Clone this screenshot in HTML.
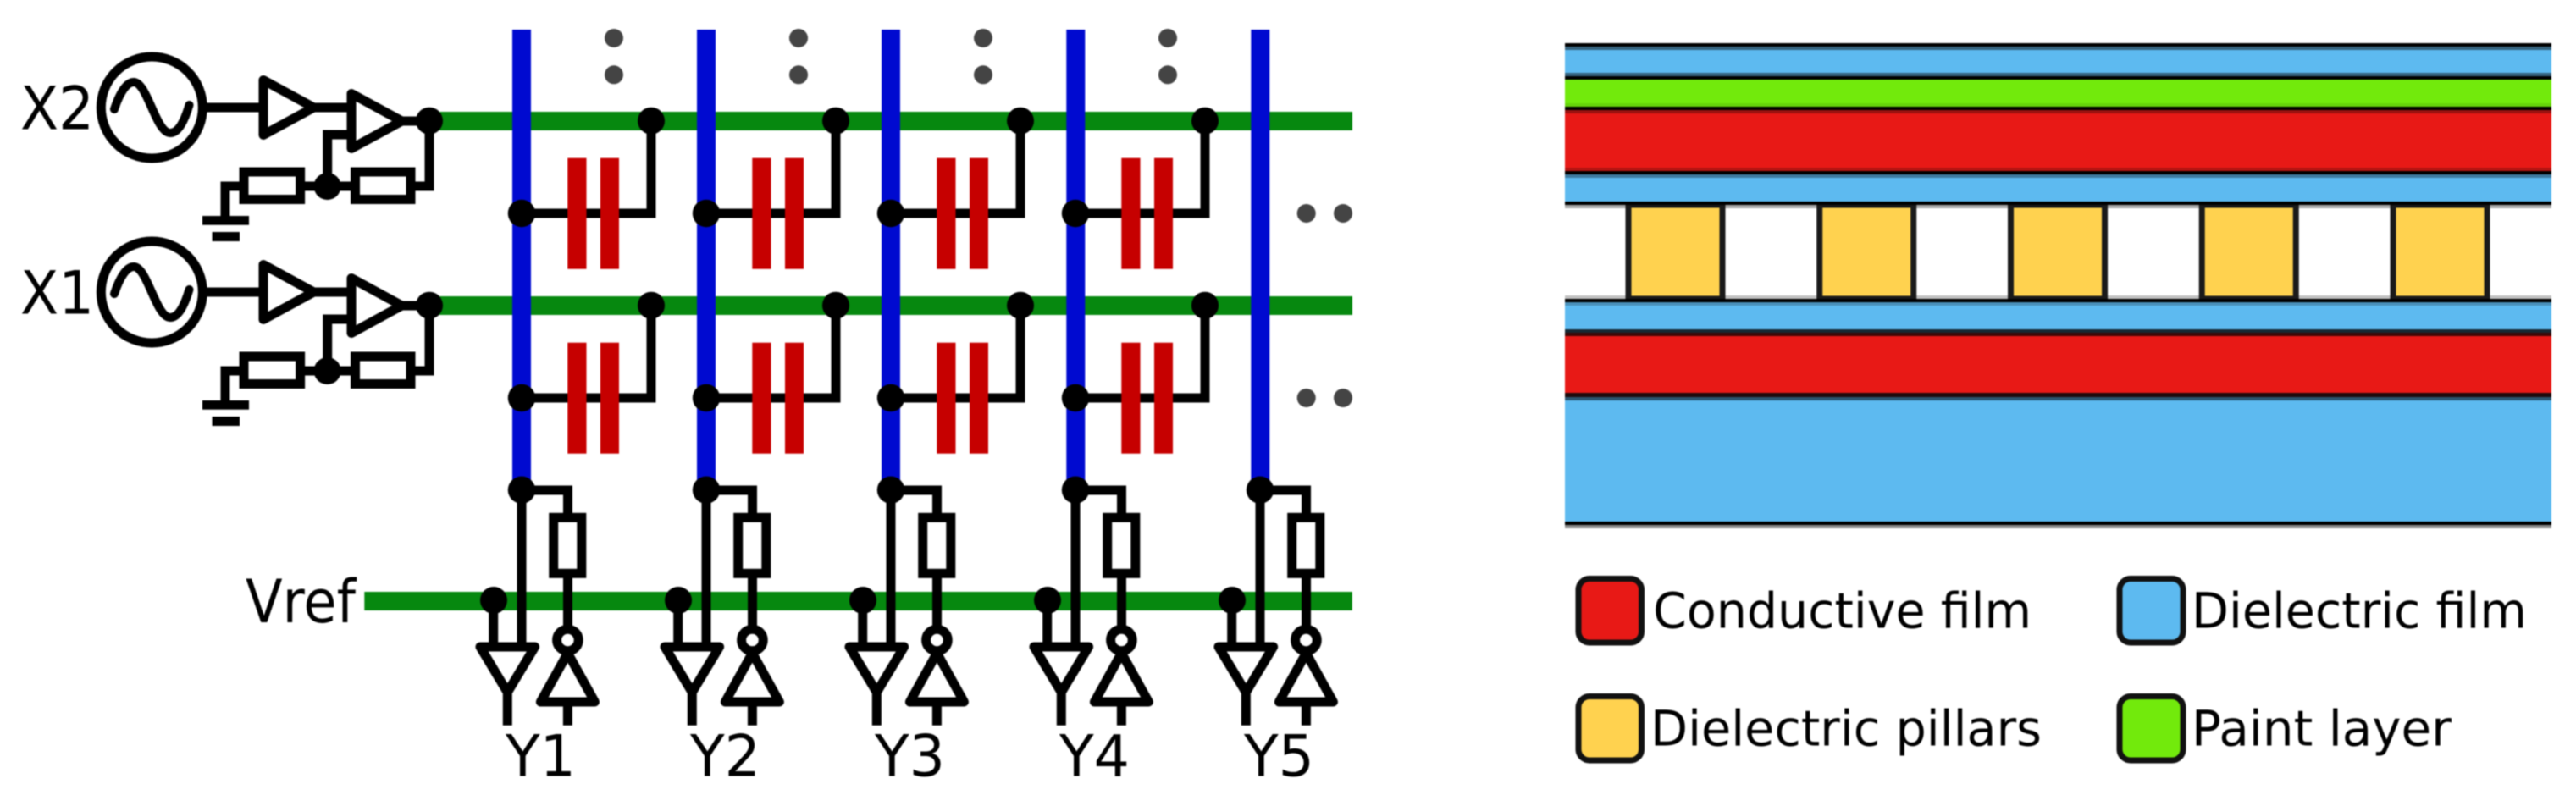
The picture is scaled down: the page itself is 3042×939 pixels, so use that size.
<!DOCTYPE html>
<html>
<head>
<meta charset="utf-8">
<style>
html,body{margin:0;padding:0;background:#fff;width:3042px;height:939px;overflow:hidden}
svg{display:block;filter:blur(0.8px)}
text{font-family:"DejaVu Sans","Liberation Sans",sans-serif;fill:#000}
</style>
</head>
<body>
<svg xmlns="http://www.w3.org/2000/svg" width="3042" height="939" viewBox="0 0 3042 939">
<defs>
  <g id="driver" fill="none" stroke="#000" stroke-width="11" stroke-linejoin="round">
    <circle cx="179.3" cy="127" r="60"/>
    <path d="M135,129 C142,108 150,97 158,97 C174,97 184,157 201,157 C211,157 218,142 223.5,124" stroke-width="10" stroke-linecap="round"/>
    <path d="M244,127 H311 M368,127 H415"/>
    <path d="M311,94.6 L370.5,127 L311,159.4 Z" fill="#fff"/>
    <path d="M415,110.6 L474.5,143 L415,175.4 Z" fill="#fff"/>
    <path d="M474,143 H507 V220 H485" stroke-linejoin="miter"/>
    <path d="M415,159 H386.7 V220" stroke-linejoin="miter"/>
    <rect x="419.5" y="203" width="65.5" height="32.5" stroke-linejoin="miter"/>
    <rect x="288" y="203" width="66.6" height="32.5" stroke-linejoin="miter"/>
    <path d="M354,220 H420"/>
    <path d="M288,220 H266 V256" stroke-linejoin="miter"/>
    <rect x="239" y="255" width="55" height="10.7" fill="#000" stroke="none"/>
    <rect x="250.5" y="274" width="32.5" height="11" fill="#000" stroke="none"/>
    <circle cx="507" cy="142.7" r="16" fill="#000" stroke="none"/>
    <circle cx="386.6" cy="220" r="16" fill="#000" stroke="none"/>
  </g>
  <g id="cap">
    <path d="M0,252 H153 V143" fill="none" stroke="#000" stroke-width="11" stroke-linejoin="miter"/>
    <rect x="54.3" y="186.7" width="22.2" height="131" fill="#c60000"/>
    <rect x="93" y="186.7" width="22" height="131" fill="#c60000"/>
    <circle cx="0" cy="252" r="16.2" fill="#000"/>
    <circle cx="153" cy="142.7" r="16" fill="#000"/>
  </g>
  <g id="bottom" fill="none" stroke="#000" stroke-width="11" stroke-linejoin="round">
    <path d="M0,579 H54.5 V756" stroke-linejoin="miter"/>
    <path d="M0,579 V764"/>
    <path d="M-33.3,709 V764"/>
    <rect x="37.7" y="611.3" width="33.1" height="66" fill="#fff" stroke-linejoin="miter"/>
    <path d="M-16.7,817 V856.7"/>
    <path d="M54.4,829 V856.7"/>
    <path d="M-49,764 H15.6 L-16.7,817.7 Z" fill="#fff"/>
    <path d="M54.4,771.4 L86.4,829 L22.4,829 Z" fill="#fff"/>
    <circle cx="54.4" cy="756" r="12.8" fill="#fff"/>
    <circle cx="0" cy="578.7" r="16.2" fill="#000" stroke="none"/>
    <circle cx="-33" cy="709" r="16" fill="#000" stroke="none"/>
  </g>
</defs>

<!-- green rails -->
<rect x="507" y="132" width="1090" height="22" fill="#06880f"/>
<rect x="507" y="350" width="1090" height="22" fill="#06880f"/>
<rect x="430.3" y="699" width="1166.5" height="22" fill="#06880f"/>

<!-- blue columns -->
<rect x="605" y="35" width="22" height="544" fill="#000ad0"/>
<rect x="823" y="35" width="22" height="544" fill="#000ad0"/>
<rect x="1041" y="35" width="22" height="544" fill="#000ad0"/>
<rect x="1259.3" y="35" width="22" height="544" fill="#000ad0"/>
<rect x="1477.3" y="35" width="22" height="544" fill="#000ad0"/>

<!-- drivers -->
<use href="#driver"/>
<use href="#driver" y="218"/>

<!-- capacitors -->
<use href="#cap" x="616"/><use href="#cap" x="834"/><use href="#cap" x="1052"/><use href="#cap" x="1270"/>
<use href="#cap" x="616" y="218"/><use href="#cap" x="834" y="218"/><use href="#cap" x="1052" y="218"/><use href="#cap" x="1270" y="218"/>

<!-- bottom circuits -->
<use href="#bottom" x="616"/><use href="#bottom" x="834"/><use href="#bottom" x="1052"/><use href="#bottom" x="1270"/><use href="#bottom" x="1488"/>

<!-- ellipsis dots -->
<g fill="#444">
  <circle cx="725" cy="45" r="11"/><circle cx="725" cy="88.3" r="11"/>
  <circle cx="943" cy="45" r="11"/><circle cx="943" cy="88.3" r="11"/>
  <circle cx="1161" cy="45" r="11"/><circle cx="1161" cy="88.3" r="11"/>
  <circle cx="1379" cy="45" r="11"/><circle cx="1379" cy="88.3" r="11"/>
  <circle cx="1542.7" cy="252" r="11"/><circle cx="1586" cy="252" r="11"/>
  <circle cx="1542.7" cy="470" r="11"/><circle cx="1586" cy="470" r="11"/>
</g>

<!-- circuit labels -->
<text x="24" y="152.7" font-size="70" textLength="87" lengthAdjust="spacingAndGlyphs">X2</text>
<text x="24" y="370.7" font-size="70" textLength="87" lengthAdjust="spacingAndGlyphs">X1</text>
<text x="290" y="735" font-size="70" textLength="130" lengthAdjust="spacingAndGlyphs">Vref</text>
<text x="597" y="916.7" font-size="68" textLength="83" lengthAdjust="spacingAndGlyphs">Y1</text>
<text x="815" y="916.7" font-size="68" textLength="83" lengthAdjust="spacingAndGlyphs">Y2</text>
<text x="1033" y="916.7" font-size="68" textLength="83" lengthAdjust="spacingAndGlyphs">Y3</text>
<text x="1251" y="916.7" font-size="68" textLength="83" lengthAdjust="spacingAndGlyphs">Y4</text>
<text x="1469" y="916.7" font-size="68" textLength="83" lengthAdjust="spacingAndGlyphs">Y5</text>

<!-- layer stack -->
<g>
  <rect x="1848" y="51" width="1165" height="4" fill="#000"/>
  <rect x="1848" y="55" width="1165" height="4" fill="#36627d"/>
  <rect x="1848" y="59" width="1165" height="27" fill="#5dbaf0"/>
  <rect x="1848" y="86" width="1165" height="4" fill="#36627d"/>
  <rect x="1848" y="90" width="1165" height="4" fill="#000"/>
  <rect x="1848" y="94" width="1165" height="28" fill="#72ea0c"/>
  <rect x="1848" y="122" width="1165" height="4" fill="#66d30a"/>
  <rect x="1848" y="126" width="1165" height="4" fill="#000"/>
  <rect x="1848" y="130" width="1165" height="4" fill="#9c1210"/>
  <rect x="1848" y="134" width="1165" height="64" fill="#e81916"/>
  <rect x="1848" y="198" width="1165" height="4" fill="#b81512"/>
  <rect x="1848" y="202" width="1165" height="4" fill="#000"/>
  <rect x="1848" y="206" width="1165" height="4" fill="#3e7a9f"/>
  <rect x="1848" y="210" width="1165" height="28" fill="#5dbaf0"/>
  <rect x="1848" y="238" width="1165" height="4" fill="#000"/>
  <rect x="1848" y="242" width="1165" height="4" fill="#a9a9a9"/>
  <rect x="1848" y="349" width="1165" height="4" fill="#c2c2c2"/>
  <rect x="1848" y="353" width="1165" height="4" fill="#000"/>
  <rect x="1848" y="357" width="1165" height="4" fill="#4a91bb"/>
  <rect x="1848" y="361" width="1165" height="28" fill="#5dbaf0"/>
  <rect x="1848" y="389" width="1165" height="4" fill="#162833"/>
  <rect x="1848" y="393" width="1165" height="4" fill="#3c0806"/>
  <rect x="1848" y="397" width="1165" height="67" fill="#e81916"/>
  <rect x="1848" y="464" width="1165" height="5" fill="#1c0a0c"/>
  <rect x="1848" y="469" width="1165" height="4" fill="#2a5570"/>
  <rect x="1848" y="473" width="1165" height="143" fill="#5dbaf0"/>
  <rect x="1848" y="616" width="1165" height="4" fill="#000"/>
  <rect x="1848" y="620" width="1165" height="4" fill="#8c8c8c"/>
</g>
<!-- pillars -->
<g fill="#ffd24f" stroke="#1a1a1a" stroke-width="7">
  <rect x="1923" y="242" width="111" height="111"/>
  <rect x="2148.75" y="242" width="111" height="111"/>
  <rect x="2374.5" y="242" width="111" height="111"/>
  <rect x="2600.25" y="242" width="111" height="111"/>
  <rect x="2826" y="242" width="111" height="111"/>
</g>
<rect x="1848" y="238" width="1165" height="4" fill="#000"/>
<rect x="1848" y="353" width="1165" height="4" fill="#000"/>

<!-- legend -->
<g stroke="#111" stroke-width="7">
  <rect x="1864" y="683.5" width="74.5" height="75.5" rx="13" fill="#e81916"/>
  <rect x="2503" y="683.5" width="75" height="75.5" rx="13" fill="#5dbaf0"/>
  <rect x="1864" y="822.5" width="74.5" height="75.5" rx="13" fill="#ffd24f"/>
  <rect x="2503" y="822.5" width="75" height="75.5" rx="13" fill="#72ea0c"/>
</g>
<g font-size="58">
  <text x="1952" y="741.7" font-size="58" textLength="447" lengthAdjust="spacingAndGlyphs">Conductive film</text>
  <text x="2588" y="741.7" font-size="58" textLength="396" lengthAdjust="spacingAndGlyphs">Dielectric film</text>
  <text x="1949" y="880.7" font-size="58" textLength="462" lengthAdjust="spacingAndGlyphs">Dielectric pillars</text>
  <text x="2588" y="880.7" font-size="58" textLength="307" lengthAdjust="spacingAndGlyphs">Paint layer</text>
</g>
</svg>
</body>
</html>
